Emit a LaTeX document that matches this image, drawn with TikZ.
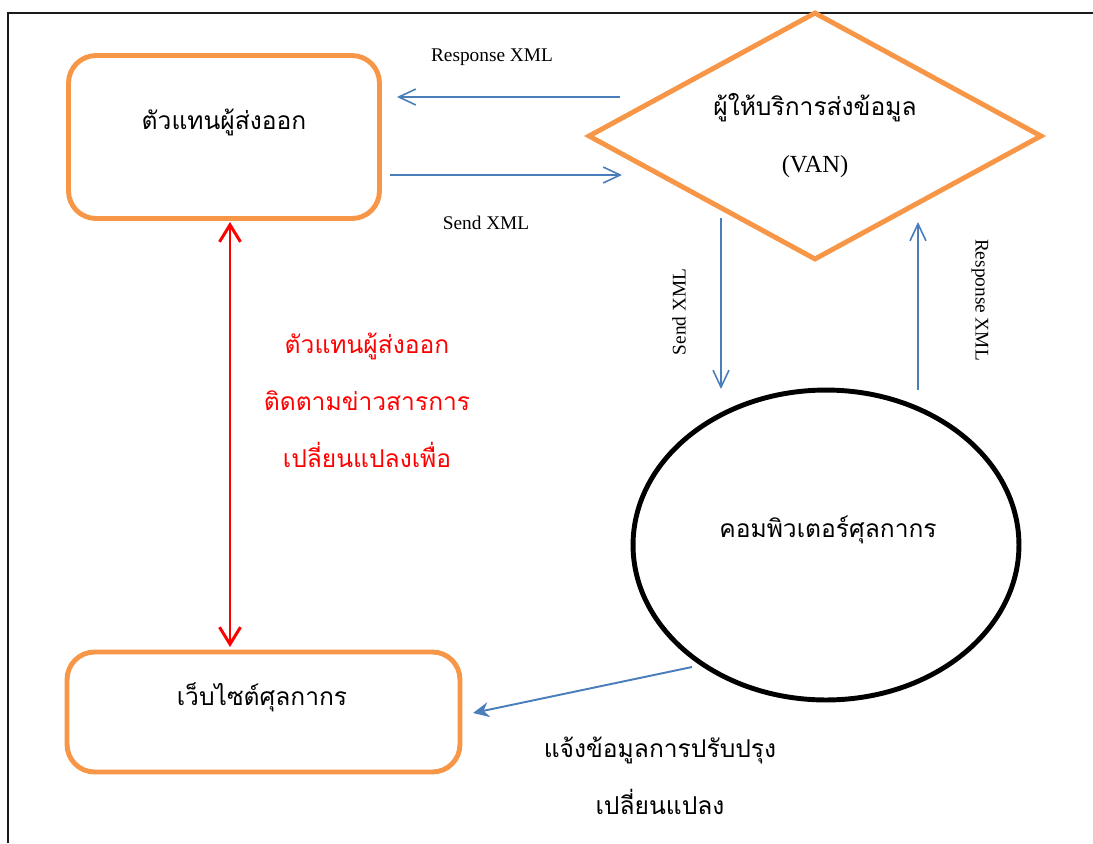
\documentclass[tikz,border=0pt]{standalone}
\usepackage{fontspec}
\setmainfont{Liberation Serif}
\newfontfamily\thai[Script=Thai]{Loma}
\usetikzlibrary{shapes.geometric,arrows.meta}
\definecolor{boxorange}{HTML}{F79646}
\definecolor{flowblue}{HTML}{4A7EBB}
\definecolor{framegray}{HTML}{1A1A1A}
\begin{document}
\begin{tikzpicture}[x=0.02cm,y=-0.02cm,
  framerule/.style={draw=framegray,line width=1.1pt},
  orangebox/.style={draw=boxorange,line width=2.8pt,rounded corners=0.55cm,inner sep=0pt},
  thaitext/.style={font=\thai\fontsize{14}{17}\selectfont},
  xmllabel/.style={font=\fontsize{11}{13}\selectfont},
  flow/.style={draw=flowblue,line width=0.9pt,-{Straight Barb[length=3.4mm,width=3.2mm]}},
  notify/.style={draw=flowblue,line width=1.1pt,-{Stealth[length=3.2mm,width=3mm]}},
  redlink/.style={draw=red,line width=1.7pt,
    {Straight Barb[length=3.4mm,width=4.2mm]}-{Straight Barb[length=3.4mm,width=4.2mm]}}]
\useasboundingbox (0,0) rectangle (1093,843);

% page frame: top and left rules only
\draw[framerule] (8,843) -- (8,13) -- (1093,13);

% shapes
\node[orangebox,minimum width=6.22cm,minimum height=3.26cm] (exp) at (224,137) {};
\node[thaitext] (exptxt) at (224,122) {ตัวแทนผู้ส่งออก};

\node[diamond,draw=boxorange,line width=2.8pt,inner sep=0pt,
      minimum width=9.08cm,minimum height=4.96cm] (van) at (815,136) {};
\node[thaitext] (vantxt) at (815,108) {ผู้ให้บริการส่งข้อมูล};
\node[font=\fontsize{14}{17}\selectfont] (vanabbr) at (815,167) {(VAN)};

\node[ellipse,draw=black,line width=2.8pt,inner sep=0pt,
      minimum width=7.72cm,minimum height=6.2cm] (comp) at (826,545) {};
\node[thaitext] (comptxt) at (828,530) {คอมพิวเตอร์ศุลกากร};

\node[orangebox,minimum width=7.86cm,minimum height=2.4cm] (web) at (263.5,712) {};
\node[thaitext] (webtxt) at (262,697) {เว็บไซต์ศุลกากร};

% connector end points
\coordinate (respA) at (620,97);  \coordinate (respB) at (397,97);
\coordinate (sendA) at (390,175); \coordinate (sendB) at (622,175);
\coordinate (downA) at (721,218); \coordinate (downB) at (721,389);
\coordinate (upA) at (918,390);   \coordinate (upB) at (918,222);
\coordinate (redA) at (230,222);  \coordinate (redB) at (230,647);
\coordinate (notA) at (692,667);  \coordinate (notB) at (473,713);

% connectors
\draw[flow] (respA) -- (respB);
\draw[flow] (sendA) -- (sendB);
\draw[flow] (downA) -- (downB);
\draw[flow] (upA) -- (upB);
\draw[redlink] (redA) -- (redB);
\draw[notify] (notA) -- (notB);

% connector labels
\node[xmllabel] (lresp) at (492,57) {Response XML};
\node[xmllabel] (lsend) at (486,223) {Send XML};
\node[xmllabel,rotate=90] (lsendv) at (679,312) {Send XML};
\node[xmllabel,rotate=-90] (lrespv) at (980,300) {Response XML};

\node[thaitext,text=red,align=center,font=\thai\fontsize{14}{32.4}\selectfont] (redtxt) at (367,400)
  {ตัวแทนผู้ส่งออก\\ติดตามข่าวสารการ\\เปลี่ยนแปลงเพื่อ};

\node[thaitext,align=center,font=\thai\fontsize{14}{32.4}\selectfont] (nottxt) at (660,776)
  {แจ้งข้อมูลการปรับปรุง\\เปลี่ยนแปลง};
\end{tikzpicture}
\end{document}
